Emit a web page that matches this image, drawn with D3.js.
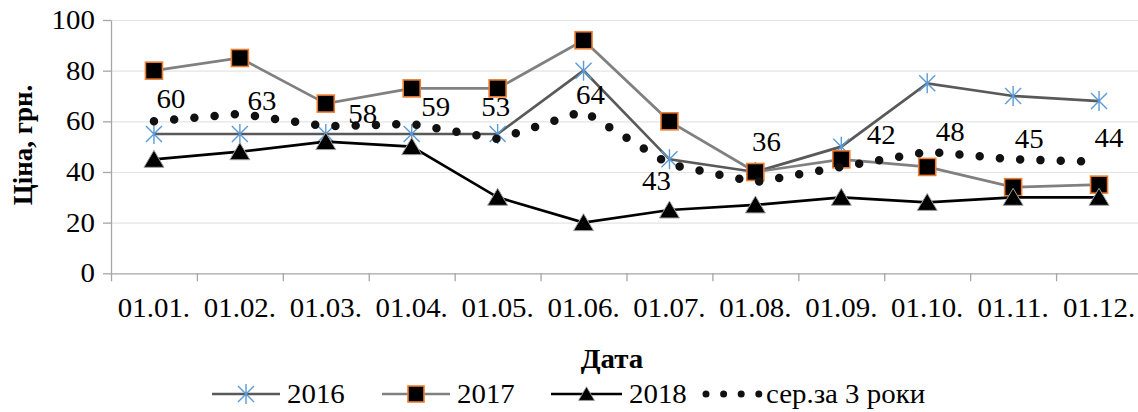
<!DOCTYPE html>
<html>
<head>
<meta charset="utf-8">
<script src="https://cdn.jsdelivr.net/npm/d3@7"></script>
<style>
  body { margin: 0; background: #fff; }
  svg { display: block; }
</style>
</head>
<body>
<div id="wrapper"></div>
<script>
// data
var months = ["01.01.", "01.02.", "01.03.", "01.04.", "01.05.", "01.06.",
              "01.07.", "01.08.", "01.09.", "01.10.", "01.11.", "01.12."];
var y2016 = [55, 55, 55, 55, 55, 80, 45, 40, 50, 75, 70, 68];
var y2017 = [80, 85, 67, 73, 73, 92, 60, 40, 45, 42, 34, 35];
var y2018 = [45, 48, 52, 50, 30, 20, 25, 27, 30, 28, 30, 30];
var avg3  = [60, 63, 58, 59, 53, 64, 43, 36, 42, 48, 45, 44];
var yTicks = [0, 20, 40, 60, 80, 100];
var seriesNames = ["2016", "2017", "2018", "сер.за 3 роки"];

// where the avg labels sit relative to their point (px)
var avgLabelShift = [[17, -23], [22, -13], [37, -13], [24, -17], [-2, -32], [7, -16],
                     [-13, 16], [11, -40], [40, -32], [23, -20], [16, -21], [10, -24]];

var serif = "'Liberation Serif', 'Times New Roman', serif";
var sx = 1.07; // the reference text is a bit wider than plain Times
var fontSize = 27;

var dimensions = {
    width: 1138,
    height: 412,
    margin: { top: 20, right: -4, bottom: 138.7, left: 111 }
};
dimensions.boundedWidth = dimensions.width - dimensions.margin.left - dimensions.margin.right;
dimensions.boundedHeight = dimensions.height - dimensions.margin.top - dimensions.margin.bottom;

var wrapper = d3.select("#wrapper")
    .append("svg")
    .attr("width", dimensions.width)
    .attr("height", dimensions.height)
    .attr("font-family", serif);

var bounds = wrapper.append("g")
    .attr("transform", "translate(" + dimensions.margin.left + "," + dimensions.margin.top + ")");

var xBand = d3.scaleBand()
    .domain(months)
    .range([0, dimensions.boundedWidth]);
var xEdge = d3.scaleLinear()
    .domain([0, months.length])
    .range([0, dimensions.boundedWidth]);
var yScale = d3.scaleLinear()
    .domain([0, 100])
    .range([dimensions.boundedHeight, 0]);

var xAccessor = function (d, i) { return xBand(months[i]) + xBand.bandwidth() / 2; };

// gridlines
var grid = bounds.append("g")
    .call(d3.axisLeft(yScale).tickValues(yTicks.slice(1)).tickSize(-dimensions.boundedWidth).tickFormat(""));
grid.select(".domain").remove();
grid.selectAll("line").attr("stroke", "#e4e4e4").attr("stroke-width", 1.2);

// x axis tick marks at the category borders
var xTicksAxis = bounds.append("g")
    .attr("transform", "translate(0," + dimensions.boundedHeight + ")")
    .call(d3.axisBottom(xEdge).tickValues(d3.range(months.length + 1)).tickSize(8).tickSizeOuter(0).tickFormat(""));
xTicksAxis.selectAll("line, path").attr("stroke", "#a6a6a6").attr("stroke-width", 1.3);

// x axis labels
var xLabels = bounds.append("g")
    .attr("transform", "translate(0," + dimensions.boundedHeight + ")")
    .call(d3.axisBottom(xBand).tickSize(0).tickPadding(24.5))
    .attr("font-family", serif)
    .attr("font-size", fontSize);
xLabels.select(".domain").remove();
xLabels.selectAll("text")
    .attr("fill", "#000")
    .attr("transform", "scale(" + sx + ",1)");

// y axis
var yAxis = bounds.append("g")
    .call(d3.axisLeft(yScale).tickValues(yTicks).tickSize(8).tickSizeOuter(0).tickPadding(7))
    .attr("font-family", serif)
    .attr("font-size", fontSize);
yAxis.selectAll("line, path").attr("stroke", "#a6a6a6").attr("stroke-width", 1.3);
yAxis.selectAll("text")
    .attr("fill", "#000")
    .attr("transform", "scale(" + sx + ",1)");

var lineGen = d3.line().x(xAccessor).y(function (d) { return yScale(d); });

var starPath = "M0,-10V10M-8,-8L8,8M-8,8L8,-8";
var triPath = "M0,-9L10,8H-10Z";

// 2016
bounds.append("path").datum(y2016)
    .attr("d", lineGen).attr("fill", "none")
    .attr("stroke", "#595959").attr("stroke-width", 2.7);
bounds.append("g").selectAll("path").data(y2016).enter().append("path")
    .attr("transform", function (d, i) { return "translate(" + xAccessor(d, i) + "," + yScale(d) + ")"; })
    .attr("d", starPath)
    .attr("fill", "none").attr("stroke", "#5b9bd5").attr("stroke-width", 1.4);

// 2017
bounds.append("path").datum(y2017)
    .attr("d", lineGen).attr("fill", "none")
    .attr("stroke", "#808080").attr("stroke-width", 2.7);
bounds.append("g").selectAll("rect").data(y2017).enter().append("rect")
    .attr("x", function (d, i) { return xAccessor(d, i) - 8.5; })
    .attr("y", function (d) { return yScale(d) - 8.5; })
    .attr("width", 17).attr("height", 17)
    .attr("fill", "#000").attr("stroke", "#ed7d31").attr("stroke-width", 1.6);

// 2018
bounds.append("path").datum(y2018)
    .attr("d", lineGen).attr("fill", "none")
    .attr("stroke", "#000").attr("stroke-width", 2.7);
bounds.append("g").selectAll("path").data(y2018).enter().append("path")
    .attr("transform", function (d, i) { return "translate(" + xAccessor(d, i) + "," + yScale(d) + ")"; })
    .attr("d", triPath)
    .attr("fill", "#000").attr("stroke", "#a0a0a0").attr("stroke-width", 1);

// average of 3 years, dotted
bounds.append("path").datum(avg3)
    .attr("d", lineGen).attr("fill", "none")
    .attr("stroke", "#111").attr("stroke-width", 8.5)
    .attr("stroke-linecap", "round")
    .attr("stroke-dasharray", "0 20.3");

bounds.append("g").selectAll("text").data(avg3).enter().append("text")
    .attr("transform", function (d, i) {
        return "translate(" + (xAccessor(d, i) + avgLabelShift[i][0]) + "," +
            (yScale(d) + avgLabelShift[i][1]) + ") scale(" + sx + ",1)";
    })
    .attr("dy", "0.34em")
    .attr("text-anchor", "middle")
    .attr("font-size", fontSize)
    .text(function (d) { return d; });

// axis titles
wrapper.append("text")
    .attr("transform", "translate(32,145) rotate(-90)")
    .attr("text-anchor", "middle")
    .attr("font-size", 27)
    .attr("font-weight", "bold")
    .text("Ціна, грн.");

wrapper.append("text")
    .attr("transform", "translate(612,368) scale(" + sx + ",1)")
    .attr("text-anchor", "middle")
    .attr("font-size", fontSize)
    .attr("font-weight", "bold")
    .text("Дата");

// legend
var legendY = 394;
var legend = wrapper.append("g");
var legendItems = [
    { name: seriesNames[0], x1: 212, x2: 280, color: "#595959", marker: "star" },
    { name: seriesNames[1], x1: 382, x2: 450, color: "#808080", marker: "square" },
    { name: seriesNames[2], x1: 551, x2: 622, color: "#000", marker: "tri" },
    { name: seriesNames[3], x1: 706, x2: 759, color: "#111", marker: "dots" }
];
legendItems.forEach(function (item) {
    var g = legend.append("g");
    var mid = (item.x1 + item.x2) / 2;
    if (item.marker === "dots") {
        g.append("line")
            .attr("x1", item.x1).attr("x2", item.x2 + 0.5)
            .attr("y1", legendY).attr("y2", legendY)
            .attr("stroke", item.color).attr("stroke-width", 7)
            .attr("stroke-linecap", "round")
            .attr("stroke-dasharray", "0 17.6");
    } else {
        g.append("line")
            .attr("x1", item.x1).attr("x2", item.x2)
            .attr("y1", legendY).attr("y2", legendY)
            .attr("stroke", item.color).attr("stroke-width", 2.7);
    }
    if (item.marker === "star") {
        g.append("path").attr("transform", "translate(" + mid + "," + legendY + ")")
            .attr("d", starPath).attr("fill", "none")
            .attr("stroke", "#5b9bd5").attr("stroke-width", 1.4);
    } else if (item.marker === "square") {
        g.append("rect").attr("x", mid - 8).attr("y", legendY - 8)
            .attr("width", 16).attr("height", 16)
            .attr("fill", "#000").attr("stroke", "#ed7d31").attr("stroke-width", 1.6);
    } else if (item.marker === "tri") {
        g.append("path").attr("transform", "translate(" + mid + "," + legendY + ") scale(0.8)")
            .attr("d", triPath).attr("fill", "#000").attr("stroke", "#a0a0a0").attr("stroke-width", 1);
    }
    g.append("text")
        .attr("transform", "translate(" + (item.x2 + 7) + "," + (legendY + 9) + ") scale(" + sx + ",1)")
        .attr("font-size", fontSize)
        .text(item.name);
});
</script>
</body>
</html>
